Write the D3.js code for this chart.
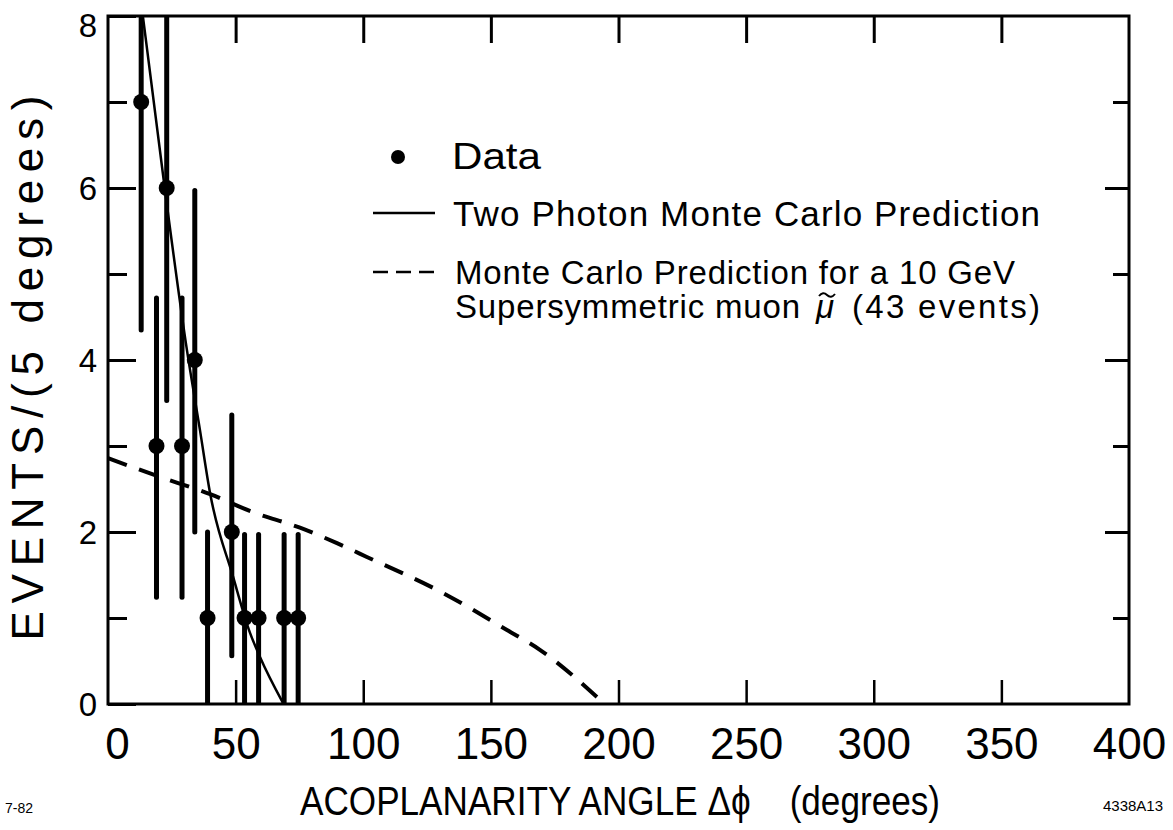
<!DOCTYPE html>
<html>
<head>
<meta charset="utf-8">
<script src="https://cdn.jsdelivr.net/npm/d3@7"></script>
<style>
  html, body { margin: 0; padding: 0; background: #fff; }
  svg { display: block; }
  text { font-family: "Liberation Sans", Arial, sans-serif; fill: #000; }
</style>
</head>
<body>
<svg id="chart" width="1173" height="830"></svg>
<script>
// Measured acoplanarity distribution (events per 5 degrees)
const dataAngle  = [13, 19, 23, 29, 34, 39, 48.5, 53.5, 59, 69, 74.5];
const dataEvents = [7, 3, 6, 3, 4, 1, 2, 1, 1, 1, 1];
const errLow     = [4.35, 1.24, 3.53, 1.24, 2.0, 0, 0.56, 0, 0, 0, 0];
const errHigh    = [8, 4.72, 8, 4.72, 5.97, 2.0, 3.36, 1.97, 1.97, 1.97, 1.97];

// Two photon Monte Carlo prediction (solid curve)
const twoPhotonAngle  = [13.7, 22.3, 30.9, 36.0, 40.0, 49.0, 55.6, 59.5, 68.6];
const twoPhotonEvents = [7.99, 5.98, 4.12, 3.19, 2.45, 1.48, 0.83, 0.55, 0.01];

// Monte Carlo prediction for a 10 GeV supersymmetric muon (dashed curve)
const smuonAngle  = [0, 18.4, 40, 56.8, 75.2, 89.7, 101.4, 131.3, 156.3, 169.2, 191.6];
const smuonEvents = [2.86, 2.66, 2.44, 2.23, 2.05, 1.87, 1.71, 1.29, 0.86, 0.63, 0.08];

// Axis ticks
const xTicks = [0, 50, 100, 150, 200, 250, 300, 350, 400];
const yMajorTicks = [0, 2, 4, 6, 8];
const yMinorTicks = [1, 3, 5, 7];

const svg = d3.select("#chart");
const L = 108, R = 1129, T = 16, B = 704;
const x = d3.scaleLinear().domain([0, 400]).range([L, R]);
const y = d3.scaleLinear().domain([0, 8]).range([B, T]);

// Clip for marks inside the frame
svg.append("defs").append("clipPath").attr("id", "plotclip")
  .append("rect").attr("x", L).attr("y", T).attr("width", R - L).attr("height", B - T);

// Left axis: long inward ticks on even values with labels, short on odd
svg.append("g").attr("transform", `translate(${L},0)`)
  .call(d3.axisLeft(y).tickValues(yMajorTicks).tickSize(-28).tickPadding(11).tickFormat(d3.format("d")))
  .call(g => g.select(".domain").remove())
  .call(g => g.selectAll("line").attr("stroke", "#000").attr("stroke-width", 3))
  .call(g => g.selectAll("text").attr("font-size", 33).attr("fill", "#000")
    .attr("font-family", "Liberation Sans, Arial, sans-serif")
    .attr("dy", d => d === 8 ? "0.62em" : "0.34em"));
svg.append("g").attr("transform", `translate(${L},0)`)
  .call(d3.axisLeft(y).tickValues(yMinorTicks).tickSize(-19).tickFormat(""))
  .call(g => g.select(".domain").remove())
  .call(g => g.selectAll("line").attr("stroke", "#000").attr("stroke-width", 3));

// Right axis ticks
svg.append("g").attr("transform", `translate(${R},0)`)
  .call(d3.axisRight(y).tickValues(yMajorTicks.filter(d => d > 0 && d < 8)).tickSize(-24).tickFormat(""))
  .call(g => g.select(".domain").remove())
  .call(g => g.selectAll("line").attr("stroke", "#000").attr("stroke-width", 3));
svg.append("g").attr("transform", `translate(${R},0)`)
  .call(d3.axisRight(y).tickValues(yMinorTicks).tickSize(-16).tickFormat(""))
  .call(g => g.select(".domain").remove())
  .call(g => g.selectAll("line").attr("stroke", "#000").attr("stroke-width", 3));

// Bottom axis with labels
svg.append("g").attr("transform", `translate(0,${B})`)
  .call(d3.axisBottom(x).tickValues(xTicks).tickSize(-24).tickPadding(24).tickFormat(d3.format("d")))
  .call(g => g.select(".domain").remove())
  .call(g => g.selectAll("line").attr("stroke", "#000").attr("stroke-width", 2.5)
    .attr("display", d => (d === 0 || d === 400) ? "none" : null))
  .call(g => g.selectAll("text").attr("font-size", 44).attr("fill", "#000")
    .attr("font-family", "Liberation Sans, Arial, sans-serif")
    .attr("dx", d => d === 0 ? 9 : 0));

// Top axis ticks
svg.append("g").attr("transform", `translate(0,${T})`)
  .call(d3.axisTop(x).tickValues(xTicks.filter(d => d > 0 && d < 400)).tickSize(-27).tickFormat(""))
  .call(g => g.select(".domain").remove())
  .call(g => g.selectAll("line").attr("stroke", "#000").attr("stroke-width", 3));

// Frame
svg.append("rect").attr("x", L).attr("y", T).attr("width", R - L).attr("height", B - T)
  .attr("fill", "none").attr("stroke", "#000").attr("stroke-width", 3);

const plot = svg.append("g").attr("clip-path", "url(#plotclip)");

// Supersymmetric muon prediction (dashed)
plot.append("path")
  .datum(smuonAngle.map((a, i) => [a, smuonEvents[i]]))
  .attr("d", d3.line().x(d => x(d[0])).y(d => y(d[1])).curve(d3.curveMonotoneX))
  .attr("fill", "none").attr("stroke", "#000").attr("stroke-width", 4)
  .attr("stroke-dasharray", "20,13");

// Two photon prediction (solid)
plot.append("path")
  .datum(twoPhotonAngle.map((a, i) => [a, twoPhotonEvents[i]]))
  .attr("d", d3.line().x(d => x(d[0])).y(d => y(d[1])).curve(d3.curveMonotoneX))
  .attr("fill", "none").attr("stroke", "#000").attr("stroke-width", 2.5);

// Error bars
plot.selectAll("line.err").data(dataAngle).join("line").attr("class", "err")
  .attr("x1", d => x(d)).attr("x2", d => x(d))
  .attr("y1", (d, i) => y(errLow[i])).attr("y2", (d, i) => y(errHigh[i]))
  .attr("stroke", "#000").attr("stroke-width", 5).attr("stroke-linecap", "round");

// Data points
plot.selectAll("circle.pt").data(dataAngle).join("circle").attr("class", "pt")
  .attr("cx", d => x(d)).attr("cy", (d, i) => y(dataEvents[i])).attr("r", 8).attr("fill", "#000");

// Legend
const lg = svg.append("g");
lg.append("circle").attr("cx", 398).attr("cy", 157).attr("r", 7).attr("fill", "#000");
lg.append("text").attr("x", 452).attr("y", 169).attr("font-size", 36)
  .attr("textLength", 89).attr("lengthAdjust", "spacingAndGlyphs").text("Data");

lg.append("line").attr("x1", 373).attr("x2", 435).attr("y1", 213).attr("y2", 213)
  .attr("stroke", "#000").attr("stroke-width", 2.5);
lg.append("text").attr("x", 453).attr("y", 226).attr("font-size", 35)
  .attr("textLength", 587).attr("lengthAdjust", "spacing").text("Two Photon Monte Carlo Prediction");

lg.append("line").attr("x1", 373).attr("x2", 435).attr("y1", 272).attr("y2", 272)
  .attr("stroke", "#000").attr("stroke-width", 2.5).attr("stroke-dasharray", "15,8");
lg.append("text").attr("x", 455).attr("y", 284).attr("font-size", 33)
  .attr("textLength", 560).attr("lengthAdjust", "spacing").text("Monte Carlo Prediction for a 10 GeV");
lg.append("text").attr("x", 455).attr("y", 318).attr("font-size", 33)
  .attr("textLength", 345).attr("lengthAdjust", "spacing").text("Supersymmetric muon");
lg.append("text").attr("x", 816).attr("y", 318).attr("font-size", 33)
  .attr("font-style", "italic").text("\u03BC");
// tilde accent over the smuon symbol
lg.append("path").attr("d", "M819,296 q4,-5 8,-1 t8,-1")
  .attr("fill", "none").attr("stroke", "#000").attr("stroke-width", 2);
lg.append("text").attr("x", 852).attr("y", 318).attr("font-size", 33)
  .attr("textLength", 188).attr("lengthAdjust", "spacing").text("(43 events)");

// Axis titles
svg.append("text").attr("transform", "translate(43,368) rotate(-90)")
  .attr("text-anchor", "middle").attr("font-size", 44)
  .attr("textLength", 545).attr("lengthAdjust", "spacing").text("EVENTS/(5 degrees)");

svg.append("text").attr("x", 300).attr("y", 815).attr("font-size", 41)
  .attr("xml:space", "preserve").style("white-space", "pre")
  .attr("textLength", 640).attr("lengthAdjust", "spacingAndGlyphs")
  .text("ACOPLANARITY ANGLE \u0394\u03D5    (degrees)");

// Figure codes
svg.append("text").attr("x", 5).attr("y", 813).attr("font-size", 14).text("7-82");
svg.append("text").attr("x", 1103).attr("y", 811).attr("font-size", 15).text("4338A13");
</script>
</body>
</html>
